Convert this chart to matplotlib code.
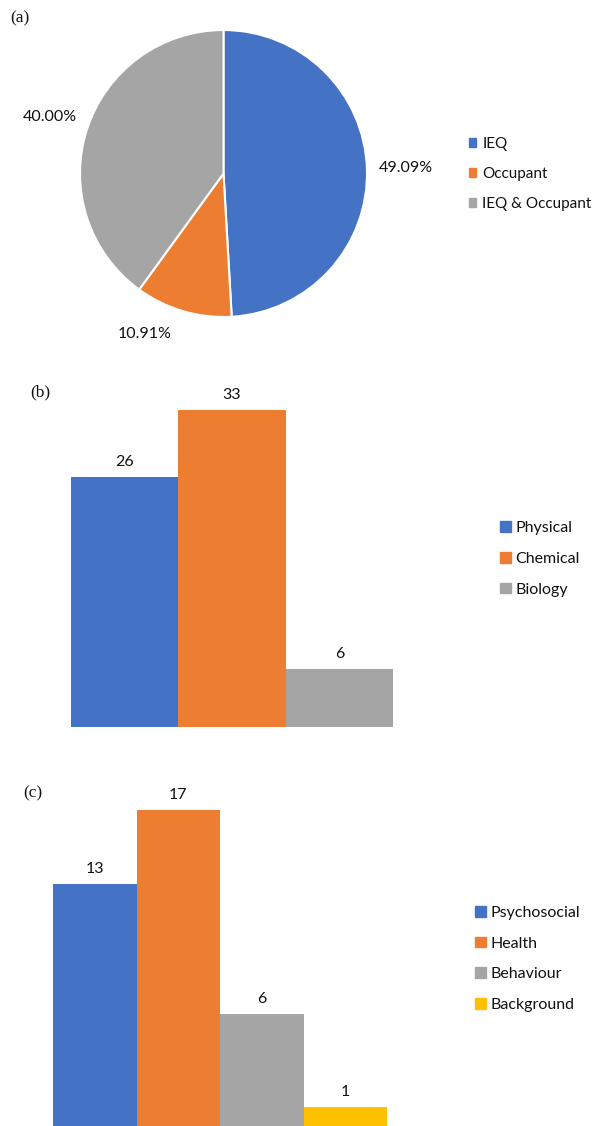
import matplotlib.pyplot as plt
from matplotlib.patches import Patch

# (a) pie data
pie_labels = ["IEQ", "Occupant", "IEQ & Occupant"]
pie_values = [49.09, 10.91, 40.00]

# (b) environment factors
env_labels = ["Physical", "Chemical", "Biology"]
env_counts = [26, 33, 6]

# (c) occupant factors
occ_labels = ["Psychosocial", "Health", "Behaviour", "Background"]
occ_counts = [13, 17, 6, 1]

blue = "#4472C4"
orange = "#ED7D31"
grey = "#A5A5A5"
yellow = "#FFC000"
ink = "#111111"

plt.rcParams['font.family'] = ['Lato', 'DejaVu Sans']
plt.rcParams['font.size'] = 11.5

W, H = 594, 1126
fig = plt.figure(figsize=(W / 100, H / 100), dpi=100)


def px_axes(left, top, right, bottom):
    # pixel box -> figure fraction
    return fig.add_axes([left / W, 1 - bottom / H, (right - left) / W, (bottom - top) / H])


# ---- (a) pie ----
ax1 = px_axes(80, 30, 367, 317)
wedges, texts, autotexts = ax1.pie(
    pie_values, colors=[blue, orange, grey], startangle=90, counterclock=False,
    autopct="%.2f%%", pctdistance=1.27,
    wedgeprops=dict(edgecolor="white", linewidth=1.5),
    textprops=dict(fontsize=11.5, color=ink))
# nudge the small slice label like the original's best-fit placement
px, py = autotexts[1].get_position()
autotexts[1].set_position((px - 0.19, py + 0.1))
ax1.set_aspect("equal")
ax1.set_xlim(-1, 1)
ax1.set_ylim(-1, 1)
fig.legend([Patch(color=c) for c in [blue, orange, grey]], pie_labels,
           loc="center left", bbox_to_anchor=(455 / W, 1 - 174 / H),
           frameon=False, handlelength=0.5, handleheight=0.5, handletextpad=0.4,
           labelspacing=1.05, fontsize=11, labelcolor=ink)
fig.text(10 / W, 1 - 18 / H, "(a)", family="Liberation Serif", fontsize=12.5,
         va="center", color=ink)


# ---- bar helper ----
def bar_panel(box, labels, counts, colors, leg_x, leg_y, tag, tag_xy):
    ax = px_axes(*box)
    x = range(len(counts))
    ax.bar(x, counts, width=1.0, color=colors)
    ax.set_xlim(-0.5, len(counts) - 0.5)
    ax.set_ylim(0, max(counts))
    for xi, v in zip(x, counts):
        ax.annotate(str(v), (xi, v), xytext=(0, 6), textcoords="offset points",
                    ha="center", va="bottom", fontsize=11.5, color=ink,
                    annotation_clip=False)
    ax.axis("off")
    fig.legend([Patch(color=c) for c in colors], labels,
               loc="center left", bbox_to_anchor=(leg_x / W, 1 - leg_y / H),
               frameon=False, handlelength=0.65, handleheight=0.65, handletextpad=0.3,
               labelspacing=1.05, fontsize=11.5, labelcolor=ink)
    fig.text(tag_xy[0] / W, 1 - tag_xy[1] / H, tag, family="Liberation Serif",
             fontsize=12.5, va="center", color=ink)


bar_panel((71, 410, 393, 727), env_labels, env_counts, [blue, orange, grey],
          486, 559, "(b)", (30, 392))
bar_panel((53, 810, 387, 1126), occ_labels, occ_counts, [blue, orange, grey, yellow],
          461, 959, "(c)", (23, 793))

fig.savefig("out.png", dpi=100)
